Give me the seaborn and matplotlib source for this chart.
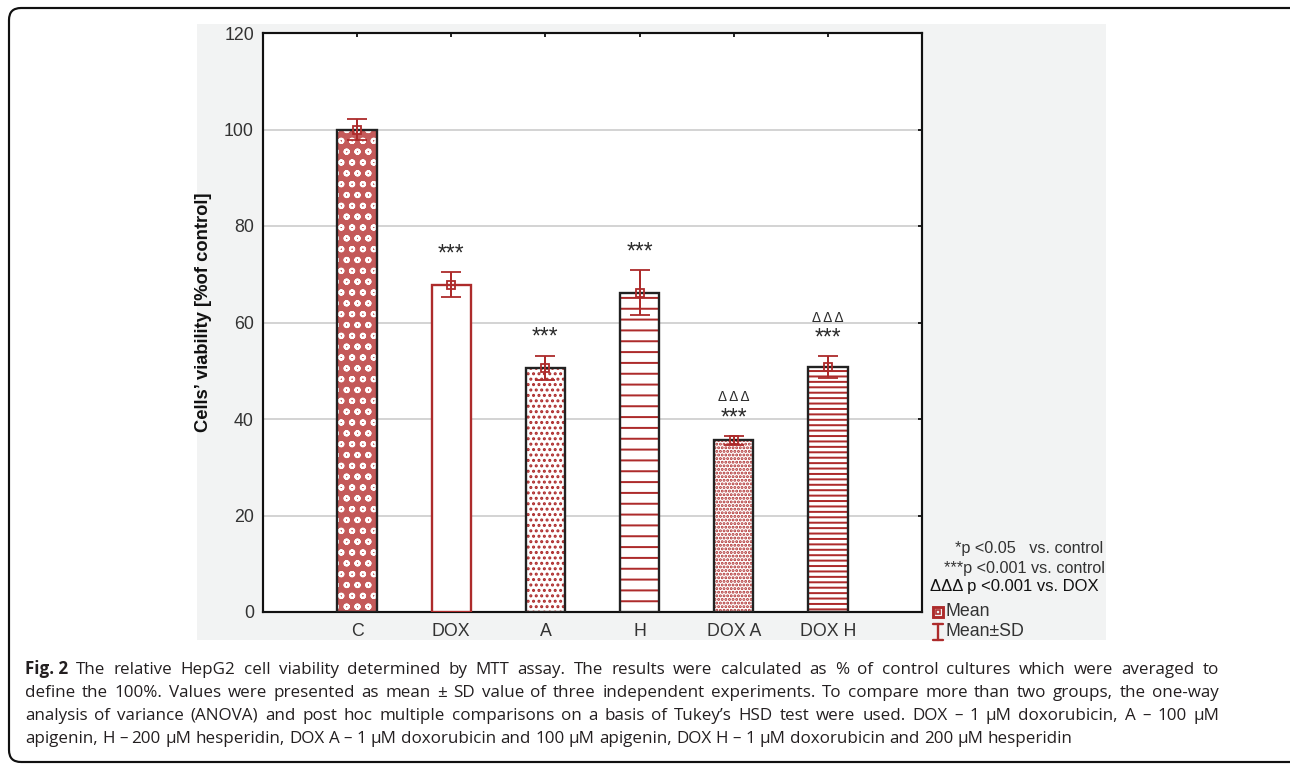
import matplotlib
matplotlib.use("Agg")
import matplotlib.pyplot as plt
import seaborn as sns
import pandas as pd
from matplotlib.patches import Rectangle, FancyBboxPatch
from matplotlib.lines import Line2D
from matplotlib.transforms import IdentityTransform

# данные с рисунка
groups = ["C", "DOX", "A", "H", "DOX A", "DOX H"]
viability = [100.0, 67.8, 50.6, 66.2, 35.6, 50.8]
sd = [2.2, 2.6, 2.5, 4.6, 0.9, 2.2]
stars = ["", "***", "***", "***", "***", "***"]
deltas = ["", "", "", "", "Δ Δ Δ", "Δ Δ Δ"]
yticks = [0, 20, 40, 60, 80, 100, 120]

caption_bold = "Fig. 2"
caption_lines = [
    "The relative HepG2 cell viability determined by MTT assay. The results were calculated as % of control cultures which were averaged to",
    "define the 100%. Values were presented as mean ± SD value of three independent experiments. To compare more than two groups, the one-way",
    "analysis of variance (ANOVA) and post hoc multiple comparisons on a basis of Tukey’s HSD test were used. DOX – 1 µM doxorubicin, A – 100 µM",
    "apigenin, H – 200 µM hesperidin, DOX A – 1 µM doxorubicin and 100 µM apigenin, DOX H – 1 µM doxorubicin and 200 µM hesperidin",
]

# стиль баров
red = "#ad2b2b"
hatches = ["oo", "", "....", "--", "......", "----"]
faces = ["#c45a5a", "white", "white", "white", "white", "white"]
hatch_cols = ["white", red, red, red, red, red]
outline_cols = ["#222222", red, "#222222", "#222222", "#222222", "#222222"]

DPI = 130
W, H = 1290, 766

sns.set_style("white")
plt.rcParams['font.family'] = ['Liberation Sans', 'DejaVu Sans']
plt.rcParams['hatch.linewidth'] = 1.1

fig = plt.figure(figsize=(W / DPI, H / DPI), dpi=DPI)
fig.patch.set_facecolor("white")

def px(x, y):
    return x / W, 1 - y / H

# серый фон картинки
x0, y1 = px(197, 24)
x1, y0 = px(1106, 640)
fig.add_artist(Rectangle((x0, y0), x1 - x0, y1 - y0, transform=fig.transFigure,
                         facecolor="#f2f3f3", edgecolor="none", zorder=0))

# рамка вокруг всего
fig.add_artist(FancyBboxPatch((9, 4), 1320, 754, boxstyle="round,pad=0,rounding_size=12",
                              transform=IdentityTransform(), facecolor="none",
                              edgecolor="#111111", linewidth=1.2, zorder=1))

ax = fig.add_axes([263 / W, 1 - 612 / H, (922 - 263) / W, (612 - 33) / H])
ax.set_facecolor("white")
ax.set_zorder(2)

df = pd.DataFrame({"group": groups, "viability": viability})
sns.barplot(data=df, x="group", y="viability", width=0.42, errorbar=None, ax=ax, zorder=3)

bars = list(ax.patches)
for p, h, fc, hc, oc in zip(bars, hatches, faces, hatch_cols, outline_cols):
    p.set_facecolor(fc)
    p.set_edgecolor(hc)
    p.set_hatch(h)
    p.set_linewidth(0)
    ax.add_patch(Rectangle(p.get_xy(), p.get_width(), p.get_height(), fill=False,
                           edgecolor=oc, linewidth=1.3, zorder=4))

xs = ax.get_xticks()
ax.errorbar(xs, viability, yerr=sd, fmt="s", mfc="none", mec=red, ms=4.5, mew=1.0,
            ecolor=red, elinewidth=1.1, capsize=5.5, capthick=1.1, zorder=6)

for x, m, s, st, dl in zip(xs, viability, sd, stars, deltas):
    if st:
        ax.text(x, m + s + 3.8, st, ha="center", va="center", fontsize=12.5,
                color="#2a2a2a", zorder=7)
    if dl:
        ax.text(x, m + s + 8.0, dl, ha="center", va="center", fontsize=7.5,
                color="#2a2a2a", zorder=7)

ax.set_xlim(-1, 6)
ax.set_ylim(0, 120)
ax.set_yticks(yticks)
ax.yaxis.grid(True, color="#d4d4d4", linewidth=1.1)
ax.set_axisbelow(True)
ax.set_xlabel("")
ax.set_ylabel("Cells’ viability [%of control]", fontsize=10.2, fontweight="bold", color="#111111")
ax.yaxis.set_label_coords(-0.077, 0.517)
ax.tick_params(direction="in", length=2.3, width=1, top=True, right=True,
               labelsize=9.8, labelcolor="#333333", color="#111111")
ax.tick_params(axis="y", pad=5)
ax.tick_params(axis="x", pad=6)
for sp in ax.spines.values():
    sp.set_visible(True)
    sp.set_color("#111111")
    sp.set_linewidth(1.2)

# легенда справа
leg_col = "#333333"
fig.text(*px(1103, 548), "*p <0.05   vs. control", ha="right", va="center", fontsize=9, color=leg_col)
fig.text(*px(1105, 568), "***p <0.001 vs. control", ha="right", va="center", fontsize=9, color=leg_col)
fig.text(*px(930, 587), "ΔΔΔ p <0.001 vs. DOX", ha="left", va="center", fontsize=9.2, color="#111111")
fig.text(*px(946, 612), "Mean", ha="left", va="center", fontsize=9.8, color=leg_col)
fig.text(*px(946, 632), "Mean±SD", ha="left", va="center", fontsize=9.8, color=leg_col)
mx, my = px(938, 612)
fig.add_artist(Line2D([mx], [my], marker="s", ms=6, mfc="none", mec=red, mew=1.6,
                      transform=fig.transFigure))
fig.add_artist(Line2D([mx], [my], marker="s", ms=2.5, mfc="none", mec=red, mew=0.9,
                      transform=fig.transFigure))
ex, ey0 = px(938, 624)
_, ey1 = px(938, 640)
cw = 5 / W
fig.add_artist(Line2D([ex, ex], [ey0, ey1], color=red, lw=1.3, transform=fig.transFigure))
fig.add_artist(Line2D([ex - cw, ex + cw], [ey0, ey0], color=red, lw=1.3, transform=fig.transFigure))
fig.add_artist(Line2D([ex - cw, ex + cw], [ey1, ey1], color=red, lw=1.3, transform=fig.transFigure))

# подпись к рисунку, выровненная по ширине
cap_font = ["Open Sans", "DejaVu Sans"]
cap_col = "#231f20"
cap_size = 9.4
left_px, right_px = 25, 1219
baselines = [674, 697, 720, 743]
fig.canvas.draw()
rend = fig.canvas.get_renderer()

def word_width(w, bold=False):
    t = fig.text(0, 0, w, transform=IdentityTransform(), fontsize=cap_size,
                 fontweight="bold" if bold else "normal", family=cap_font)
    wd = t.get_window_extent(renderer=rend).width
    t.remove()
    return wd

space_w = word_width("a b") - word_width("ab")
for i, (line, yb) in enumerate(zip(caption_lines, baselines)):
    words = [(w, False) for w in line.split(" ")]
    if i == 0:
        words = [(caption_bold, True)] + words
    widths = [word_width(w, b) for w, b in words]
    if i < len(caption_lines) - 1:
        gap = (right_px - left_px - sum(widths)) / (len(words) - 1)
    else:
        gap = space_w
    xcur = left_px
    for (w, b), wd in zip(words, widths):
        fig.text(xcur, H - yb, w, transform=IdentityTransform(), fontsize=cap_size,
                 fontweight="bold" if b else "normal", family=cap_font,
                 color=cap_col, va="baseline")
        xcur += wd + gap

fig.savefig("out.png", dpi=DPI)
